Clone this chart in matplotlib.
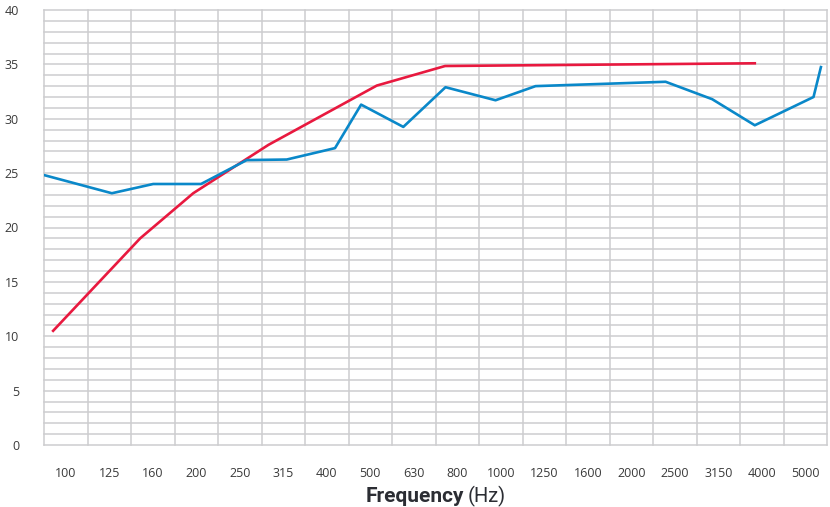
import matplotlib
matplotlib.use("Agg")
import matplotlib.pyplot as plt
import numpy as np

# Categories (1/3-octave bands)
bands = ["100", "125", "160", "200", "250", "315", "400", "500", "630", "800",
         "1000", "1250", "1600", "2000", "2500", "3150", "4000", "5000"]

# Blue series: positions in band units (0 = 100 Hz band centre) and dB values
blue_pos = [-0.48, 1.06, 2.01, 3.11, 4.16, 5.08, 6.19, 6.79, 7.76, 8.73,
            9.88, 10.80, 13.79, 14.86, 15.84, 17.19, 17.36]
blue_val = [24.8, 23.15, 24.0, 24.0, 26.2, 26.25, 27.3, 31.3, 29.25, 32.9,
            31.7, 33.0, 33.4, 31.8, 29.4, 32.0, 34.75]

# Red series
red_pos = [-0.29, 1.71, 2.93, 4.66, 7.15, 8.72, 15.84]
red_val = [10.5, 19.0, 23.15, 27.6, 33.05, 34.85, 35.1]

y_ticks = list(range(0, 41, 5))

fig = plt.figure(figsize=(8.30, 5.07), dpi=100)
ax = fig.add_axes([44/830, 62/507, 783/830, 435/507])

grid_color = "#cdcdcf"
ax.set_xlim(-0.5, len(bands) - 0.5)
ax.set_ylim(0, 40)
ax.set_xticks(range(len(bands)))
ax.set_xticklabels(bands)
ax.set_yticks(y_ticks)
ax.grid(False)
for xv in np.arange(-0.5, len(bands), 1.0):
    ax.axvline(xv, color=grid_color, lw=1.1, zorder=0, clip_on=False)
for yv in range(0, 41):
    ax.axhline(yv, color=grid_color, lw=1.1, zorder=0, clip_on=False)
for s in ax.spines.values():
    s.set_visible(False)
ax.tick_params(axis="both", which="both", length=0)
ax.tick_params(axis="x", pad=16, labelsize=9, labelcolor="#3a3a3a")
ax.tick_params(axis="y", pad=18, labelsize=9, labelcolor="#3a3a3a")
for lab in ax.get_xticklabels() + ax.get_yticklabels():
    lab.set_fontfamily("Open Sans")

ax.plot(red_pos, red_val, color="#e8193f", lw=1.9, zorder=3, solid_joinstyle="round")
ax.plot(blue_pos, blue_val, color="#0a88c9", lw=1.9, zorder=4, solid_joinstyle="round")

# x axis label: bold "Frequency" + regular "(Hz)"
t1 = fig.text(0, 5/507, "Frequency", fontsize=15, fontweight="bold",
              family="Roboto", color="#2b2d33", va="baseline", ha="left")
t2 = fig.text(0, 5/507, "(Hz)", fontsize=14.5, family="Roboto",
              color="#2b2d33", va="baseline", ha="left")
fig.canvas.draw()
r = fig.canvas.get_renderer()
w1 = t1.get_window_extent(r).width
w2 = t2.get_window_extent(r).width
gap = 4
cx = (44 + 827) / 2
x0 = cx - (w1 + gap + w2) / 2
t1.set_x(x0 / 830)
t2.set_x((x0 + w1 + gap) / 830)

fig.savefig("out.png", dpi=100)
